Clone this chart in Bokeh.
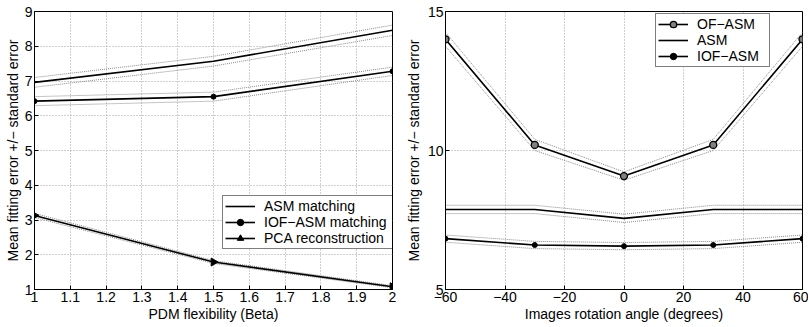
import numpy as np
from bokeh.plotting import figure
from bokeh.layouts import row
from bokeh.models import FixedTicker, Legend, LegendItem, NumeralTickFormatter
from bokeh.embed import file_html
from bokeh.resources import INLINE

# ---- left panel data ----
beta = [1.0, 1.5, 2.0]
asm_match = [6.96, 7.57, 8.46]
asm_match_se = [0.14, 0.14, 0.15]
iof_match = [6.42, 6.55, 7.28]
iof_match_se = [0.13, 0.13, 0.12]
pca_recon = [3.13, 1.79, 1.08]
pca_recon_se = [0.06, 0.04, 0.03]
left_xticks = [1.0, 1.1, 1.2, 1.3, 1.4, 1.5, 1.6, 1.7, 1.8, 1.9, 2.0]
left_yticks = [1, 2, 3, 4, 5, 6, 7, 8, 9]

# ---- right panel data ----
angles = [-60, -30, 0, 30, 60]
of_asm = [14.0, 10.2, 9.08, 10.2, 14.0]
of_asm_se = [0.25, 0.2, 0.15, 0.2, 0.25]
asm_rot = [7.88, 7.88, 7.56, 7.88, 7.88]
asm_rot_se = [0.15, 0.15, 0.15, 0.15, 0.15]
iof_rot = [6.83, 6.60, 6.56, 6.60, 6.83]
iof_rot_se = [0.13, 0.13, 0.13, 0.13, 0.13]
right_xticks = [-60, -40, -20, 0, 20, 40, 60]
right_xlabels = {-60: "\u221260", -40: "\u221240", -20: "\u221220", 0: "0", 20: "20", 40: "40", 60: "60"}
right_yticks = [5, 10, 15]

FONT = "Liberation Sans"
FS = "14px"
LW = 1.6
BAND_COLOR = "#8a8a8a"


def style(p):
    p.outline_line_color = "black"
    p.outline_line_width = 1
    p.outline_line_alpha = 1
    p.background_fill_color = "white"
    p.border_fill_color = "white"
    for ax in (p.xaxis[0], p.yaxis[0]):
        ax.major_label_text_font = FONT
        ax.major_label_text_font_size = FS
        ax.major_label_text_color = "black"
        ax.axis_label_text_font = FONT
        ax.axis_label_text_font_size = FS
        ax.axis_label_text_font_style = "normal"
        ax.axis_label_text_color = "black"
        ax.axis_line_color = "black"
        ax.major_tick_line_color = "black"
        ax.major_tick_in = 4
        ax.major_tick_out = 0
        ax.minor_tick_line_color = None
        ax.major_label_standoff = 2
        ax.axis_label_standoff = 1
    for g in (p.xgrid[0], p.ygrid[0]):
        g.grid_line_color = "#a0a0a0"
        g.grid_line_dash = "1 2"
        g.grid_line_width = 1


def band(p, x, y, se):
    y = np.array(y)
    se = np.array(se)
    p.line(x, y + se, line_color=BAND_COLOR, line_dash="1 1", line_width=1)
    p.line(x, y - se, line_color=BAND_COLOR, line_dash="1 1", line_width=1)


# ---------------- left figure ----------------
p1 = figure(width=397, height=326, output_backend="svg", toolbar_location=None,
            x_range=(1, 2), y_range=(1, 9),
            min_border_left=34, min_border_right=5, min_border_top=10, min_border_bottom=37)
p1.xaxis.axis_label = "PDM flexibility (Beta)"
p1.yaxis.axis_label = "Mean fitting error +/\u2212 standard error"
p1.xaxis.ticker = FixedTicker(ticks=left_xticks)
p1.yaxis.ticker = FixedTicker(ticks=left_yticks)
p1.xaxis.formatter = NumeralTickFormatter(format="0.[0]")
style(p1)

band(p1, beta, asm_match, asm_match_se)
band(p1, beta, iof_match, iof_match_se)
band(p1, beta, pca_recon, pca_recon_se)

l_asm = p1.line(beta, asm_match, line_color="black", line_width=LW)
l_iof = p1.line(beta, iof_match, line_color="black", line_width=LW)
s_iof = p1.scatter(beta, iof_match, marker="circle", size=5, fill_color="black", line_color="black")
l_pca = p1.line(beta, pca_recon, line_color="black", line_width=LW)
s_pca = p1.scatter(beta, pca_recon, marker="triangle", angle=-np.pi / 2, size=8,
                   fill_color="black", line_color="black")

leg1 = Legend(items=[
    LegendItem(label="ASM matching", renderers=[l_asm]),
    LegendItem(label="IOF\u2212ASM matching", renderers=[l_iof, s_iof]),
    LegendItem(label="PCA reconstruction", renderers=[l_pca, s_pca]),
], location=(188, 40))
p1.add_layout(leg1, "center")

# ---------------- right figure ----------------
p2 = figure(width=411, height=326, output_backend="svg", toolbar_location=None,
            x_range=(-60, 60), y_range=(5, 15),
            min_border_left=48, min_border_right=6, min_border_top=11, min_border_bottom=34)
p2.xaxis.axis_label = "Images rotation angle (degrees)"
p2.yaxis.axis_label = "Mean fitting error +/\u2212 standard error"
p2.xaxis.ticker = FixedTicker(ticks=right_xticks)
p2.xaxis.major_label_overrides = right_xlabels
p2.yaxis.ticker = FixedTicker(ticks=right_yticks)
style(p2)
p2.yaxis.axis_label_standoff = 3

band(p2, angles, of_asm, of_asm_se)
band(p2, angles, asm_rot, asm_rot_se)
band(p2, angles, iof_rot, iof_rot_se)

l_of = p2.line(angles, of_asm, line_color="black", line_width=LW)
s_of = p2.scatter(angles, of_asm, marker="circle", size=7, fill_color="#808080", line_color="black",
                  line_width=1.3)
l_asm2 = p2.line(angles, asm_rot, line_color="black", line_width=LW)
l_iof2 = p2.line(angles, iof_rot, line_color="black", line_width=LW)
s_iof2 = p2.scatter(angles, iof_rot, marker="circle", size=5, fill_color="black", line_color="black")

leg2 = Legend(items=[
    LegendItem(label="OF\u2212ASM", renderers=[l_of, s_of]),
    LegendItem(label="ASM", renderers=[l_asm2]),
    LegendItem(label="IOF\u2212ASM", renderers=[l_iof2, s_iof2]),
], location=(210, 222))
p2.add_layout(leg2, "center")

for leg in (leg1, leg2):
    leg.border_line_color = "black"
    leg.border_line_width = 1
    leg.background_fill_alpha = 1
    leg.label_text_font = FONT
    leg.label_text_font_size = FS
    leg.label_text_color = "black"
    leg.label_height = 16
    leg.glyph_height = 16
    leg.glyph_width = 30
    leg.spacing = 0
    leg.padding = 2
    leg.margin = 0
    leg.label_standoff = 9
leg1.label_width = 130
leg2.label_width = 70

layout = row(p1, p2)
open("out.html", "w").write(file_html(layout, INLINE))
